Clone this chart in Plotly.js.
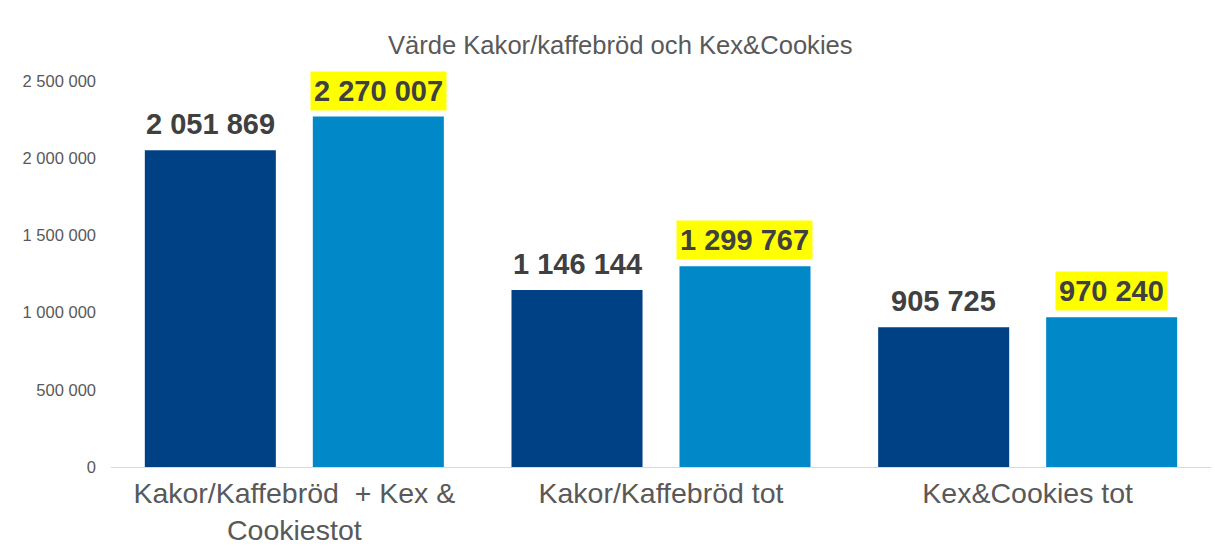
<!DOCTYPE html>
<html>
<head>
<meta charset="utf-8">
<script src="https://cdn.plot.ly/plotly-3.0.1.min.js"></script>
<style>html,body{margin:0;padding:0;background:#fff;}#chart{width:1215px;height:549px;}</style>
</head>
<body>
<div id="chart"></div>
<script>
const categories = ["Kakor/Kaffebröd  + Kex &<br>Cookiestot", "Kakor/Kaffebröd tot", "Kex&Cookies tot"];
const seriesA = [2051869, 1146144, 905725];
const seriesB = [2270007, 1299767, 970240];
const tickVals = [0, 500000, 1000000, 1500000, 2000000, 2500000];

const colorA = "#004185";
const colorB = "#0088C9";
const bargap = 0.0837;
const off = (1 - bargap) / 4;

function fmt(v) {
  return String(v).replace(/\B(?=(\d{3})+(?!\d))/g, " ");
}

const traces = [
  {type: "bar", x: [0, 1, 2], y: seriesA, marker: {color: colorA}, hoverinfo: "y", name: "A"},
  {type: "bar", x: [0, 1, 2], y: seriesB, marker: {color: colorB}, hoverinfo: "y", name: "B"}
];

const annotations = [];
seriesA.forEach((v, i) => annotations.push({
  x: i - off, y: v, xref: "x", yref: "y", text: fmt(v), showarrow: false,
  yanchor: "bottom", yshift: 6, borderpad: 3,
  font: {family: "Liberation Sans, Arial, sans-serif", size: 29, color: "#404040", weight: "bold"}
}));
seriesB.forEach((v, i) => annotations.push({
  x: i + off, y: v, xref: "x", yref: "y", text: fmt(v), showarrow: false,
  yanchor: "bottom", yshift: 6, borderpad: 3, bgcolor: "#FFFF00",
  font: {family: "Liberation Sans, Arial, sans-serif", size: 29, color: "#404040", weight: "bold"}
}));

const layout = {
  width: 1215, height: 549,
  margin: {l: 111, r: 4, t: 81, b: 82},
  paper_bgcolor: "#fff", plot_bgcolor: "#fff",
  showlegend: false,
  barmode: "group", bargap: bargap, bargroupgap: 0.22,
  separators: ", ",
  title: {text: "Värde Kakor/kaffebröd och Kex&Cookies", xref: "container", x: 0.5105, xanchor: "center", y: 0.918, yanchor: "middle",
    font: {family: "Liberation Sans, Arial, sans-serif", size: 25.6, color: "#595959"}},
  xaxis: {
    tickmode: "array", tickvals: [0, 1, 2], ticktext: categories,
    range: [-0.5, 2.5], showgrid: false, zeroline: false,
    showline: true, linecolor: "#D9D9D9", linewidth: 1, ticks: "",
    ticklabelstandoff: 1,
    tickfont: {family: "Liberation Sans, Arial, sans-serif", size: 28.5, color: "#595959"}
  },
  yaxis: {
    range: [0, 2500000], tickmode: "array", tickvals: tickVals, ticktext: tickVals.map(fmt),
    showgrid: false, zeroline: false, showline: false, ticks: "",
    ticklabelstandoff: 14,
    tickfont: {family: "Liberation Sans, Arial, sans-serif", size: 16.5, color: "#595959"}
  },
  annotations: annotations
};

Plotly.newPlot("chart", traces, layout, {displayModeBar: false, staticPlot: true});
</script>
</body>
</html>
